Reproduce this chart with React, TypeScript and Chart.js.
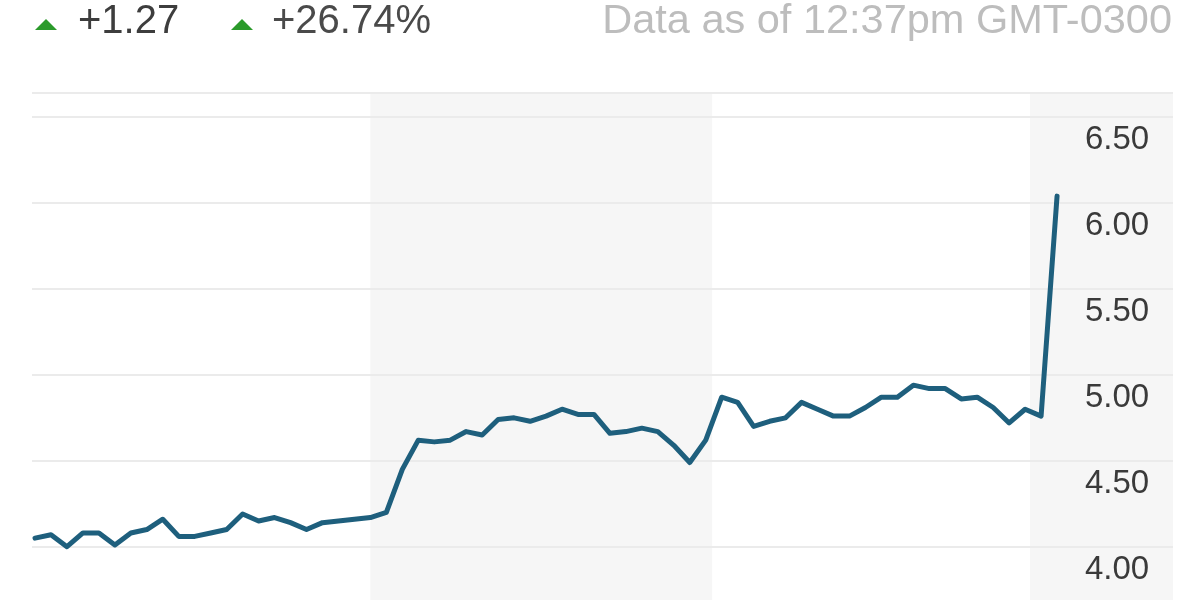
import React, { useEffect, useRef } from "react";
import { Chart, registerables } from "chart.js";

Chart.register(...registerables);

// Intraday price samples (one every few minutes)
const prices: number[] = [
  4.05, 4.07, 4.0, 4.08, 4.08, 4.01, 4.08, 4.1, 4.16, 4.06,
  4.06, 4.08, 4.1, 4.19, 4.15, 4.17, 4.14, 4.1, 4.14, 4.15,
  4.16, 4.17, 4.2, 4.45, 4.62, 4.61, 4.62, 4.67, 4.65, 4.74,
  4.75, 4.73, 4.76, 4.8, 4.77, 4.77, 4.66, 4.67, 4.69, 4.67,
  4.59, 4.49, 4.62, 4.87, 4.84, 4.7, 4.73, 4.75, 4.84, 4.8,
  4.76, 4.76, 4.81, 4.87, 4.87, 4.94, 4.92, 4.92, 4.86, 4.87,
  4.81, 4.72, 4.8, 4.76, 6.04,
];

// Value-axis ticks and range
const yTicks: number[] = [4.0, 4.5, 5.0, 5.5, 6.0, 6.5];
const yMin = 3.69;
const yMax = 6.64;

// Sample-index range shown and the alternate (shaded) sessions
const xMin = -0.19;
const xMax = 65.75;
const shadedSessions: [number, number][] = [
  [21, 42.4],
  [62.3, 71.26],
];

// Header texts
const changeAbs = "+1.27";
const changePct = "+26.74%";
const asOfText = "Data as of 12:37pm GMT-0300";

const AXIS_W = 88;

const bandPlugin = {
  id: "sessionBands",
  beforeDraw(chart: any) {
    const { ctx, chartArea, scales } = chart;
    const x = scales.x;
    const y = scales.y;
    const rightEdge = y.right;
    ctx.save();
    ctx.fillStyle = "#f6f6f6";
    for (const [a, b] of shadedSessions) {
      const x0 = Math.max(chartArea.left, x.getPixelForValue(a));
      const x1 = Math.min(rightEdge, x.getPixelForValue(b));
      ctx.fillRect(x0, chartArea.top, x1 - x0, chartArea.bottom - chartArea.top);
    }
    ctx.restore();
  },
};

function PriceChart() {
  const ref = useRef<HTMLCanvasElement | null>(null);
  useEffect(() => {
    if (!ref.current) return;
    const points = prices.map((v, i) => ({ x: i, y: v }));
    const chart = new Chart(ref.current, {
      type: "line",
      data: {
        datasets: [
          {
            data: points,
            borderColor: "#1e5f7d",
            borderWidth: 5,
            pointRadius: 0,
            tension: 0,
            borderJoinStyle: "round",
            borderCapStyle: "round",
            fill: false,
          },
        ],
      },
      options: {
        animation: false,
        responsive: true,
        maintainAspectRatio: false,
        layout: { padding: { left: 32, right: 27, top: 93, bottom: 0 } },
        plugins: {
          legend: { display: false },
          tooltip: { enabled: false },
        },
        scales: {
          x: {
            type: "linear",
            min: xMin,
            max: xMax,
            display: false,
          },
          y: {
            type: "linear",
            position: "right",
            min: yMin,
            max: yMax,
            afterBuildTicks: (s: any) => {
              s.ticks = [...yTicks, yMax].map((v) => ({ value: v }));
            },
            afterFit: (s: any) => {
              s.width = AXIS_W;
              s.paddingTop = 0;
              s.paddingBottom = 0;
            },
            border: { display: false },
            grid: {
              color: "#ebebeb",
              lineWidth: 2,
              drawTicks: true,
              tickLength: AXIS_W,
            },
            ticks: {
              padding: -AXIS_W,
              labelOffset: 23,
              color: "#3a3a3a",
              font: { family: "'Liberation Sans', Arial, sans-serif", size: 33 },
              callback: (v: any) => (Number(v) === yMax ? "" : Number(v).toFixed(2)),
            },
          },
        },
      },
      plugins: [bandPlugin],
    } as any);
    return () => chart.destroy();
  }, []);
  return <canvas ref={ref} />;
}

const tri: React.CSSProperties = {
  position: "absolute",
  top: 19,
  width: 0,
  height: 0,
  borderLeft: "11px solid transparent",
  borderRight: "11px solid transparent",
  borderBottom: "11px solid #2b9a2b",
};

const headText: React.CSSProperties = {
  position: "absolute",
  top: -1,
  fontFamily: "'Liberation Sans', Arial, sans-serif",
  fontSize: 40,
  lineHeight: "40px",
  whiteSpace: "nowrap",
};

export default function App() {
  return (
    <div
      style={{
        position: "fixed",
        left: 0,
        top: 0,
        width: 1200,
        height: 600,
        background: "#ffffff",
        overflow: "hidden",
      }}
    >
      <div style={{ position: "absolute", left: 0, top: 0, width: 1200, height: 600 }}>
        <PriceChart />
      </div>
      <div style={{ ...tri, left: 35 }} />
      <span style={{ ...headText, left: 78, color: "#3d3d3d" }}>{changeAbs}</span>
      <div style={{ ...tri, left: 231 }} />
      <span style={{ ...headText, left: 272, color: "#4a4a4a" }}>{changePct}</span>
      <span style={{ ...headText, right: 28, fontSize: 41.5, color: "#bdbdbd" }}>{asOfText}</span>
    </div>
  );
}
